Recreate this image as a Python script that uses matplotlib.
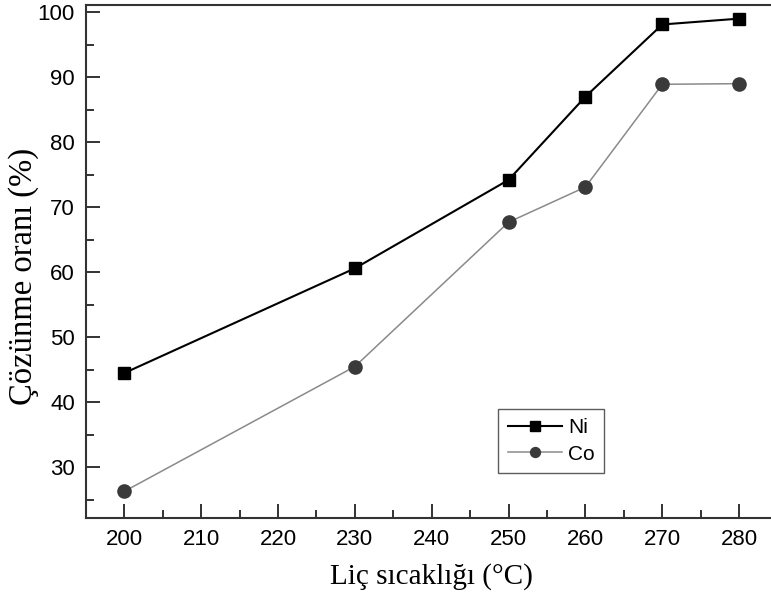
import numpy as np
import matplotlib
matplotlib.use("Agg")
import matplotlib.pyplot as plt
from matplotlib.ticker import MultipleLocator

# leaching temperature (°C) vs dissolution rate (%)
temperature = [200, 230, 250, 260, 270, 280]
ni_rate = [44.5, 60.6, 74.2, 87.0, 98.1, 99.0]
co_rate = [26.3, 45.5, 67.7, 73.1, 88.9, 89.0]

tick_font = ["Liberation Sans", "DejaVu Sans"]
label_font = ["Liberation Serif", "DejaVu Serif"]

fig = plt.figure(figsize=(7.71, 5.99), dpi=100)
ax = fig.add_axes([0.1115, 0.1352, 0.8970, 0.8565])

ax.plot(temperature, ni_rate, '-', color='black', lw=1.5,
        marker='s', ms=9, mfc='black', mec='black', label="Ni")
ax.plot(temperature, co_rate, '-', color='#8a8a8a', lw=1.1,
        marker='o', ms=9.5, mfc='#3a3a3a', mec='#3a3a3a', label="Co")

ax.set_xlim(195, 285)
ax.set_ylim(22.2, 101.1)
ax.xaxis.set_major_locator(MultipleLocator(10))
ax.xaxis.set_minor_locator(MultipleLocator(5))
ax.yaxis.set_major_locator(MultipleLocator(10))
ax.yaxis.set_minor_locator(MultipleLocator(5))
ax.set_yticks(np.arange(30, 101, 10))

ax.tick_params(which='both', direction='in', top=False, right=False,
               width=1.4, color='#333333')
ax.tick_params(which='major', length=10, pad=8, labelsize=16)
ax.tick_params(which='minor', length=6)
for lab in ax.get_xticklabels() + ax.get_yticklabels():
    lab.set_family(tick_font)

for side in ['left', 'bottom', 'top', 'right']:
    ax.spines[side].set_linewidth(1.5)
    ax.spines[side].set_color('#333333')

ax.set_xlabel("Liç sıcaklığı (°C)", family=label_font, fontsize=21, labelpad=9)
ax.set_ylabel("Çözünme oranı (%)", family=label_font, fontsize=23.5)
ax.yaxis.set_label_coords(-0.068, 0.471)

leg = ax.legend(loc='upper left', bbox_to_anchor=(0.596, 0.2125),
                prop={'family': tick_font, 'size': 15}, markerscale=0.75,
                frameon=True, fancybox=False, edgecolor='#333333',
                handlelength=2.6, borderaxespad=0, labelspacing=0.35,
                handletextpad=0.3, borderpad=0.45)
leg.get_frame().set_linewidth(1.0)

fig.savefig("out.png", dpi=100)
